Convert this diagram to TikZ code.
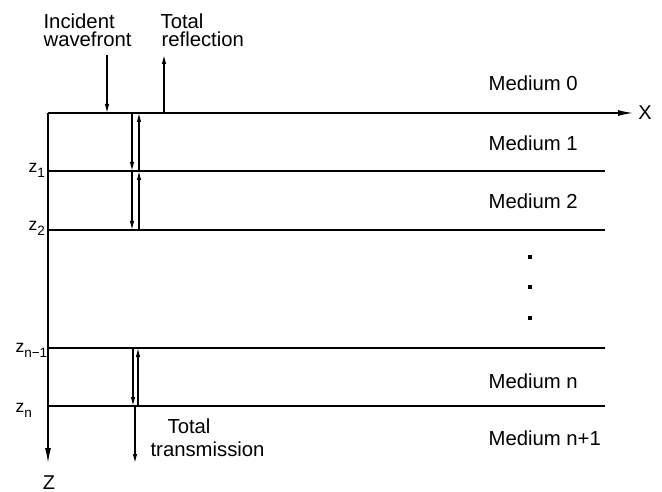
\documentclass[tikz,border=0pt]{standalone}
\usepackage{fontspec}
\setmainfont{Liberation Sans}
\usetikzlibrary{arrows.meta}
\newcommand{\zsub}[1]{z\raisebox{-5pt}{\fontsize{13.5}{14}\selectfont #1}}
\begin{document}
\begin{tikzpicture}[x=1pt,y=-1pt,line width=1.2pt,
  txt/.style={anchor=base west,inner sep=0pt,font=\fontsize{20.3}{22}\selectfont},
  two/.style={anchor=base west,inner sep=0pt,align=left,font=\fontsize{20.3}{18.3}\selectfont},
  zlab/.style={anchor=base west,inner sep=0pt,font=\fontsize{17.5}{20}\selectfont},
  axlab/.style={anchor=base,inner sep=0pt,font=\fontsize{20}{22}\selectfont},
  arr/.style={-{Latex[length=9pt,width=4.5pt]}},
  axarr/.style={-{Latex[length=15pt,width=6pt]},line width=1.3pt},
  layer/.style={line width=1.1pt},
  dot/.style={rectangle,fill=black,minimum size=4pt,inner sep=0pt}]
\useasboundingbox (0,0) rectangle (662,492);
% axes
\coordinate (O) at (48,113);
\coordinate (Xend) at (633,113);
\coordinate (Zend) at (48,463);
\draw[axarr] (O) -- (Xend);
\draw[axarr] (O) -- (Zend);
\node[axlab] (xlab) at (645,120) {X};
\node[axlab] (zlab) at (49,489) {Z};
% interfaces
\foreach \n/\y in {1/171,2/230,3/348,4/406}{
  \coordinate (L\n a) at (48,\y);
  \coordinate (L\n b) at (605,\y);
  \draw[layer] (L\n a) -- (L\n b);
}
% z labels
\node[zlab] (z1) at (28,173) {\zsub{1}};
\node[zlab] (z2) at (28,231) {\zsub{2}};
\node[zlab] (z3) at (15,352) {\zsub{n−1}};
\node[zlab] (z4) at (15,412) {\zsub{n}};
% medium labels
\node[txt] (m0) at (488,91) {Medium 0};
\node[txt] (m1) at (488,151) {Medium 1};
\node[txt] (m2) at (488,208) {Medium 2};
\node[txt] (mn) at (488,388) {Medium n};
\node[txt] (mn1) at (488,445) {Medium n+1};
% dots
\node[dot] (d1) at (530,257) {};
\node[dot] (d2) at (530,287) {};
\node[dot] (d3) at (530,318) {};
% top texts
\node[two] (inc) at (43,46.5) {Incident\\wavefront};
\node[two] (ref) at (160,46.5) {Total\\\hspace*{1pt}reflection};
\node[txt] (tr1) at (167,433) {Total};
\node[txt] (tr2) at (150,456) {transmission};
% incident and reflected arrows
\coordinate (incS) at (107,55);
\coordinate (incE) at (107,113);
\draw[arr] (incS) -- (incE);
\coordinate (refS) at (164,113);
\coordinate (refE) at (164,55);
\draw[arr] (refS) -- (refE);
% internal arrows
\coordinate (a0) at (132,113);
\coordinate (a1) at (132,171);
\coordinate (a2) at (132,230);
\coordinate (b0) at (139,113);
\coordinate (b1) at (139,171);
\coordinate (b2) at (139,230);
\draw[arr] (a0) -- (a1);
\draw[arr] (a1) -- (a2);
\draw[arr] (b1) -- (b0);
\draw[arr] (b2) -- (b1);
\coordinate (c0) at (133,348);
\coordinate (c1) at (133,406);
\coordinate (e0) at (138,348);
\coordinate (e1) at (138,406);
\draw[arr] (c0) -- (c1);
\draw[arr] (e1) -- (e0);
\coordinate (t0) at (135,406);
\coordinate (t1) at (135,463);
\draw[arr] (t0) -- (t1);
\end{tikzpicture}
\end{document}
